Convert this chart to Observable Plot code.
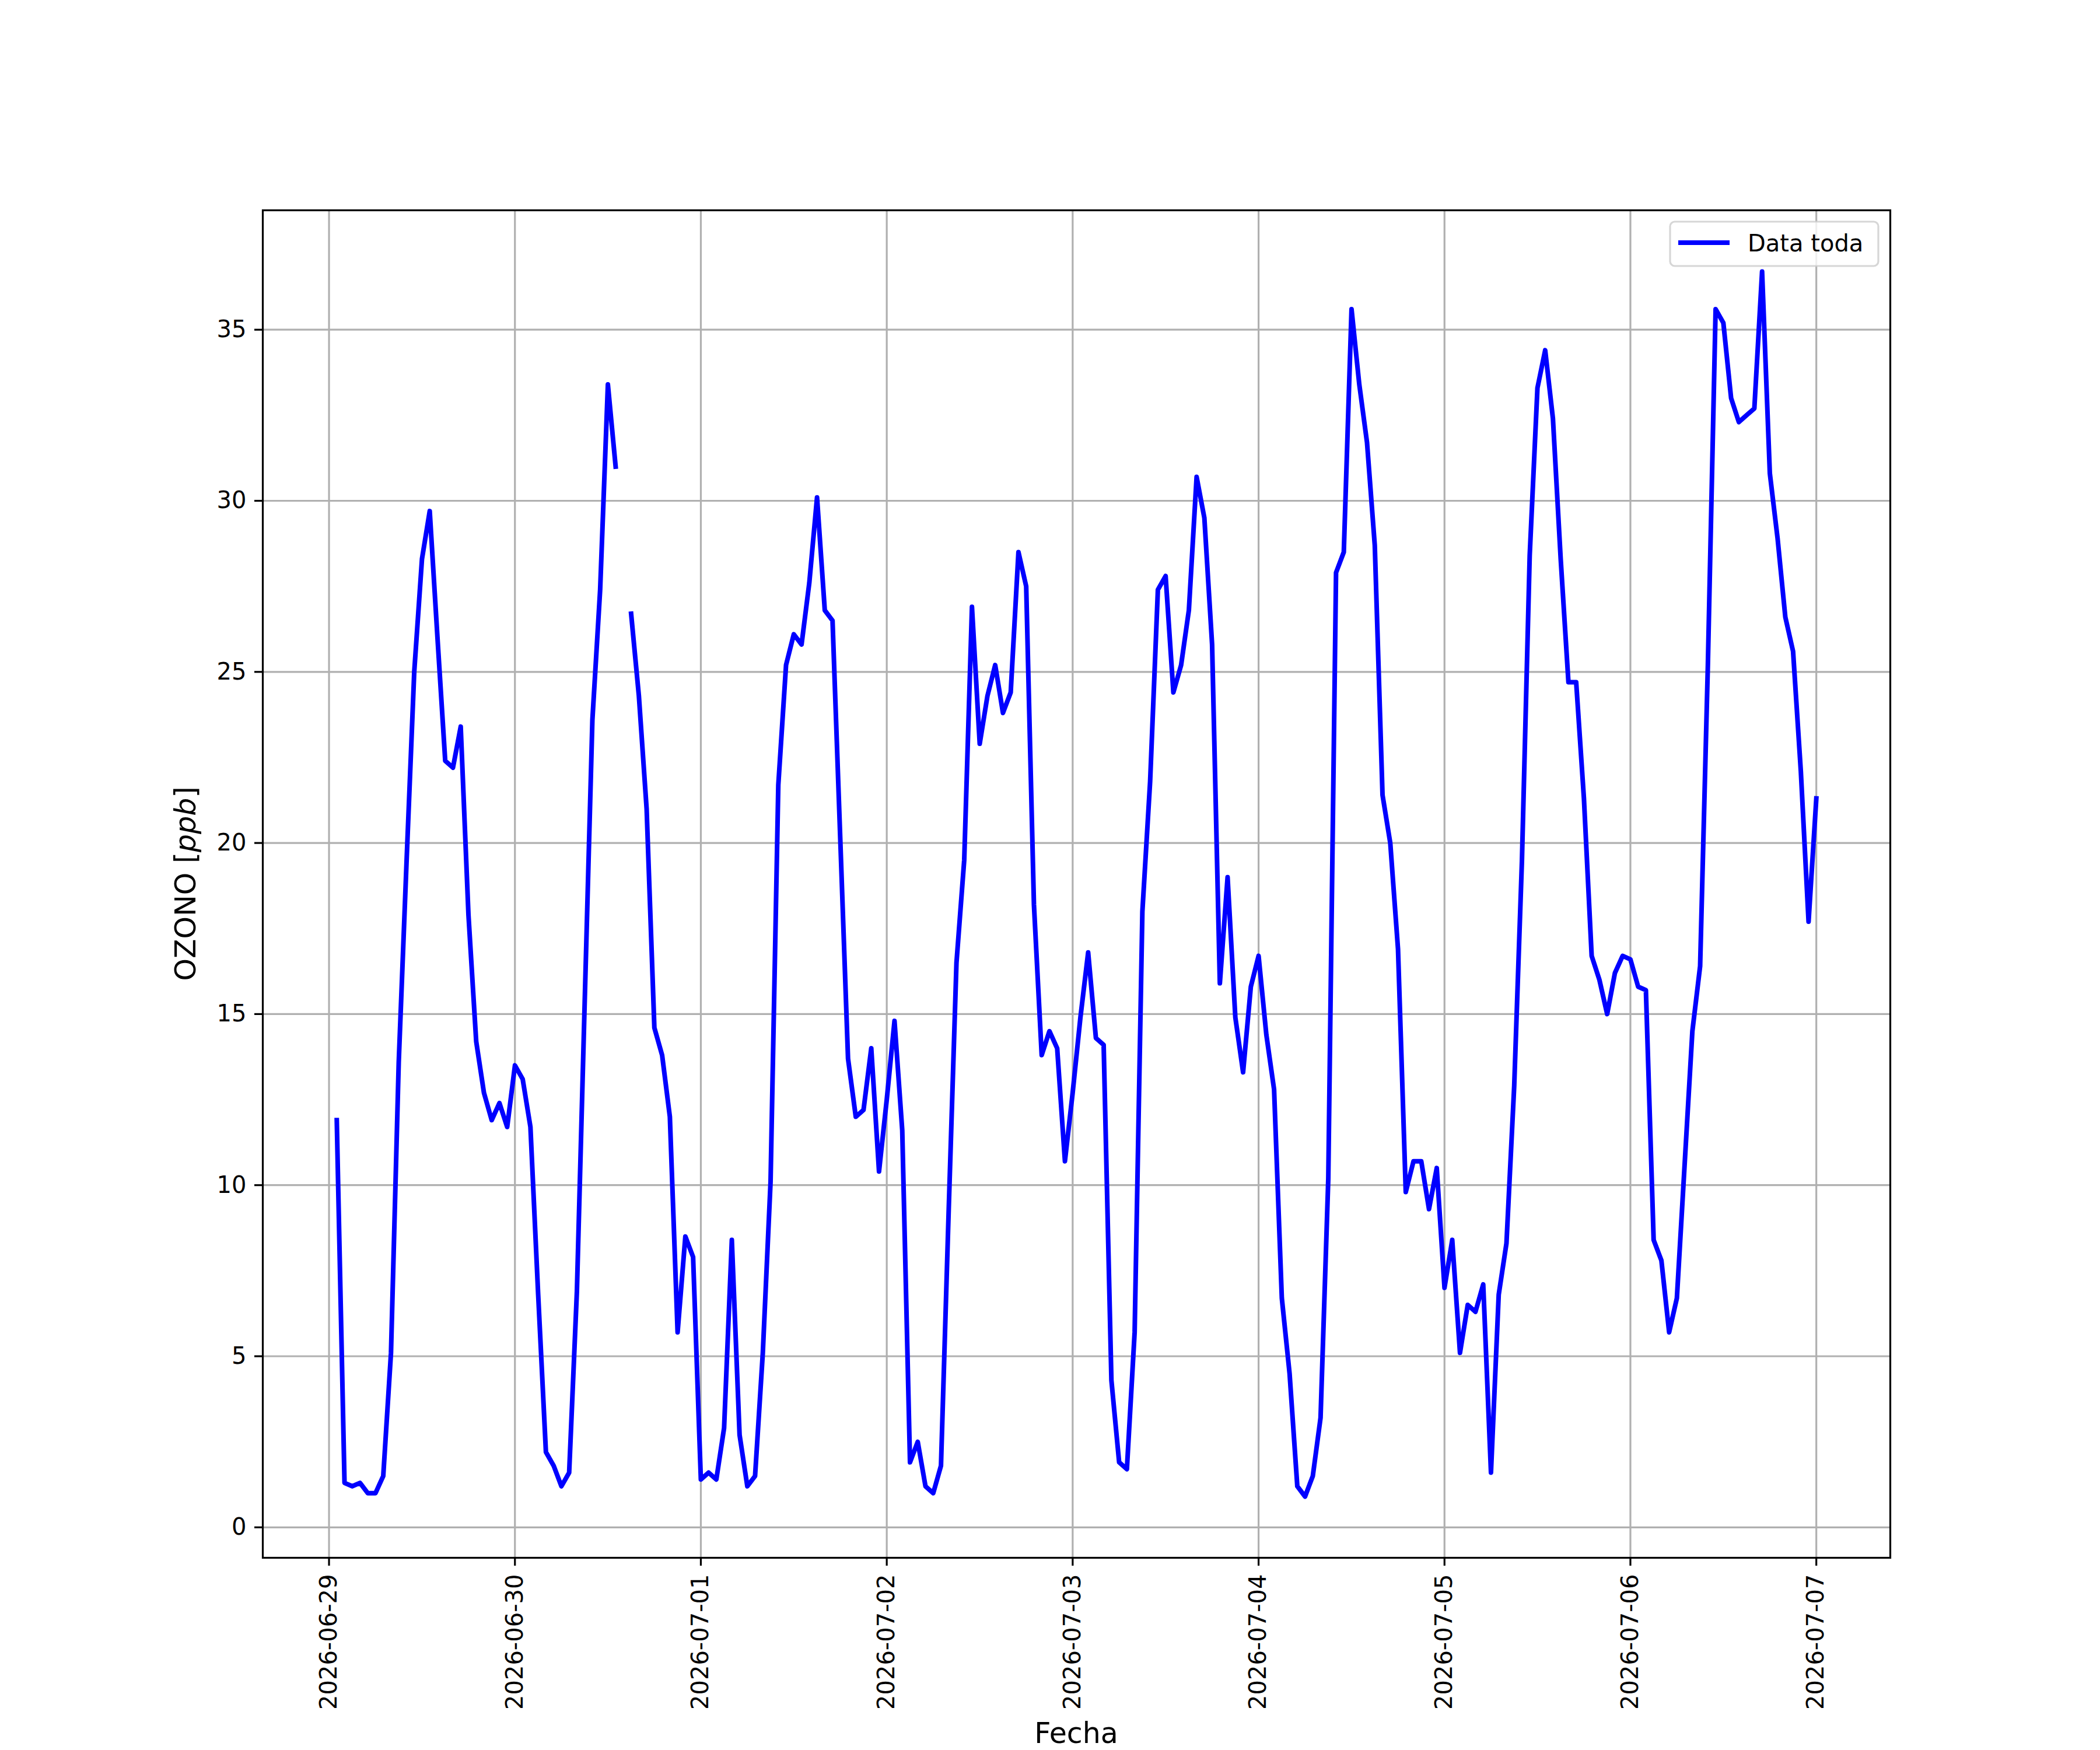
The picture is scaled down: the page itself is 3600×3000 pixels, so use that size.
<!DOCTYPE html>
<html>
<head>
<meta charset="utf-8">
<script src="https://cdn.jsdelivr.net/npm/d3@7"></script>
<script src="https://cdn.jsdelivr.net/npm/@observablehq/plot@0.6"></script>
<style>
  html, body { margin: 0; padding: 0; background: #ffffff; }
  #chart svg { display: block; }
</style>
</head>
<body>
<div id="chart"></div>
<script>
// ---- Data: hourly ozone (ppb), one array per day, index = hour (00..23) ----
const dayLabels = ["2026-06-29", "2026-06-30", "2026-07-01", "2026-07-02", "2026-07-03", "2026-07-04", "2026-07-05", "2026-07-06", "2026-07-07"];

const ozono_0629 = [null, 11.9, 1.3, 1.2, 1.3, 1.0, 1.0, 1.5, 5.1, 13.6, 19.4, 25.0, 28.3, 29.7, 26.0, 22.4, 22.2, 23.4, 17.9, 14.2, 12.7, 11.9, 12.4, 11.7];
const ozono_0630 = [13.5, 13.1, 11.7, 6.8, 2.2, 1.8, 1.2, 1.6, 6.9, 15.3, 23.6, 27.4, 33.4, 31.0, null, 26.7, 24.3, 21.0, 14.6, 13.8, 12.0, 5.7, 8.5, 7.9];
const ozono_0701 = [1.4, 1.6, 1.4, 2.9, 8.4, 2.7, 1.2, 1.5, 5.1, 10.1, 21.7, 25.2, 26.1, 25.8, 27.6, 30.1, 26.8, 26.5, 20.1, 13.7, 12.0, 12.2, 14.0, 10.4];
const ozono_0702 = [12.5, 14.8, 11.6, 1.9, 2.5, 1.2, 1.0, 1.8, 9.3, 16.5, 19.5, 26.9, 22.9, 24.3, 25.2, 23.8, 24.4, 28.5, 27.5, 18.2, 13.8, 14.5, 14.0, 10.7];
const ozono_0703 = [12.7, 14.9, 16.8, 14.3, 14.1, 4.3, 1.9, 1.7, 5.7, 18.0, 21.8, 27.4, 27.8, 24.4, 25.2, 26.8, 30.7, 29.5, 25.8, 15.9, 19.0, 14.9, 13.3, 15.8];
const ozono_0704 = [16.7, 14.4, 12.8, 6.7, 4.5, 1.2, 0.9, 1.5, 3.2, 10.2, 27.9, 28.5, 35.6, 33.4, 31.7, 28.7, 21.4, 20.0, 16.9, 9.8, 10.7, 10.7, 9.3, 10.5];
const ozono_0705 = [7.0, 8.4, 5.1, 6.5, 6.3, 7.1, 1.6, 6.8, 8.3, 12.9, 19.5, 28.4, 33.3, 34.4, 32.4, 28.3, 24.7, 24.7, 21.3, 16.7, 16.0, 15.0, 16.2, 16.7];
const ozono_0706 = [16.6, 15.8, 15.7, 8.4, 7.8, 5.7, 6.7, 10.6, 14.5, 16.4, 25.2, 35.6, 35.2, 33.0, 32.3, 32.5, 32.7, 36.7, 30.8, 28.9, 26.6, 25.6, 22.1, 17.7];
const ozono_0707 = [21.3];

const yTicks = [0, 5, 10, 15, 20, 25, 30, 35];

const seriesLabel = "Data toda";
const xLabel = "Fecha";

// ---- Build table ----
const dailySeries = [ozono_0629, ozono_0630, ozono_0701, ozono_0702, ozono_0703, ozono_0704, ozono_0705, ozono_0706, ozono_0707];
const data = [];
dailySeries.forEach((vals, i) => {
  const base = new Date(dayLabels[i] + "T00:00:00Z");
  vals.forEach((v, h) => data.push({fecha: new Date(+base + h * 3600e3), ozono: v}));
});
const dayTicks = dayLabels.map(d => new Date(d + "T00:00:00Z"));

// matplotlib-like 5% auto margins
const defined = data.filter(d => d.ozono != null);
const [x0, x1] = d3.extent(defined, d => +d.fecha);
const [y0, y1] = d3.extent(defined, d => d.ozono);
const xPad = (x1 - x0) * 0.05, yPad = (y1 - y0) * 0.05;

const W = 3600, H = 3000;
const mL = 450, mR = 360, mT = 360, mB = 330;

const plot = Plot.plot({
  width: W,
  height: H,
  marginLeft: mL,
  marginRight: mR,
  marginTop: mT,
  marginBottom: mB,
  style: {fontFamily: "'DejaVu Sans', sans-serif", fontSize: "40px", color: "black", background: "white"},
  x: {type: "utc", domain: [new Date(x0 - xPad), new Date(x1 + xPad)]},
  y: {domain: [y0 - yPad, y1 + yPad]},
  marks: [
    Plot.gridX(dayTicks, {stroke: "#b0b0b0", strokeOpacity: 1, strokeWidth: 3.2}),
    Plot.gridY(yTicks, {stroke: "#b0b0b0", strokeOpacity: 1, strokeWidth: 3.2}),
    Plot.line(data, {x: "fecha", y: "ozono", stroke: "blue", strokeWidth: 8, strokeLinejoin: "round", strokeLinecap: "square"}),
    Plot.frame({stroke: "black", strokeWidth: 3.2}),
    Plot.axisX(dayTicks, {tickFormat: d3.utcFormat("%Y-%m-%d"), tickRotate: -90, tickSize: 14, tickPadding: 14, strokeWidth: 3.2, label: null, fontSize: 40}),
    Plot.axisY(yTicks, {tickFormat: d => String(d), tickSize: 14, tickPadding: 14, strokeWidth: 3.2, label: null, fontSize: 40})
  ]
});

document.getElementById("chart").appendChild(plot);

// ---- Axis titles and legend (layout decorations) ----
const svg = d3.select(plot);
const frameRight = W - mR, frameTop = mT, frameBottom = H - mB;

svg.append("text")
  .attr("x", mL + (W - mL - mR) / 2)
  .attr("y", 2988)
  .attr("text-anchor", "middle")
  .attr("font-size", 49)
  .attr("fill", "black")
  .text(xLabel);

const yl = svg.append("text")
  .attr("transform", `translate(335,${(frameTop + frameBottom) / 2}) rotate(-90)`)
  .attr("text-anchor", "middle")
  .attr("font-size", 49)
  .attr("fill", "black");
yl.append("tspan").text("OZONO [");
yl.append("tspan").attr("font-style", "italic").text("ppb");
yl.append("tspan").text("]");

const lg = svg.append("g");
const boxW = 357, boxH = 76;
const bx = frameRight - 20 - boxW, by = frameTop + 20;
lg.append("rect")
  .attr("x", bx).attr("y", by).attr("width", boxW).attr("height", boxH)
  .attr("rx", 8).attr("ry", 8)
  .attr("fill", "white").attr("fill-opacity", 0.8)
  .attr("stroke", "#cccccc").attr("stroke-opacity", 0.8).attr("stroke-width", 3.2);
lg.append("line")
  .attr("x1", bx + 14).attr("x2", bx + 102)
  .attr("y1", by + 36).attr("y2", by + 36)
  .attr("stroke", "blue").attr("stroke-width", 8).attr("stroke-linecap", "butt");
lg.append("text")
  .attr("x", bx + 133).attr("y", by + 51)
  .attr("text-anchor", "start")
  .attr("font-size", 40).attr("fill", "black")
  .text(seriesLabel);
</script>
</body>
</html>
